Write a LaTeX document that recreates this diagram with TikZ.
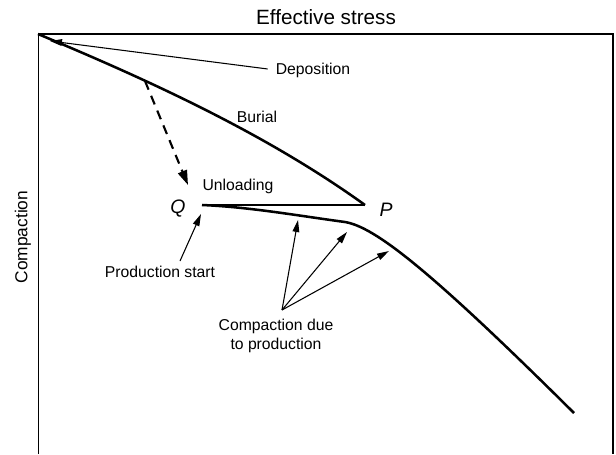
\documentclass[tikz,border=0pt]{standalone}
\usepackage{fontspec}
\setmainfont{Liberation Sans}
\usetikzlibrary{arrows.meta}

\begin{document}
\begin{tikzpicture}[x=0.75pt, y=-0.75pt,
            every node/.style={inner sep=0pt, font=\fontsize{11.8}{14}\selectfont},
            curve/.style={line width=1.9pt},
            frame/.style={line width=0.8pt},
            note/.style={line width=0.8pt, -{Triangle[length=9pt, width=5pt]}},
            reload/.style={line width=1.6pt, dash pattern=on 7pt off 5pt, -{Triangle[length=11pt, width=7pt]}},
            axis/.style={font=\fontsize{15.5}{18}\selectfont},
            pt/.style={font=\fontsize{14.6}{17}\selectfont\itshape}]
            \useasboundingbox (0,0) rectangle (616,454);
            \draw[frame] (38.5,454) -- (38.5,34) -- (613,34) -- (613,454);
            \node[axis] (stress) at (326,17) {Effective stress};
            \node[axis, font=\fontsize{13}{16}\selectfont, rotate=90] (comp) at (23,237) {Compaction};

            \coordinate (o) at (38,34);
            \coordinate (b) at (145,81);
            \coordinate (p) at (365,205);
            \coordinate (q) at (202,205);
            \coordinate (k) at (345,222);
            \coordinate (e) at (574,413);
            \draw[curve] (o) .. controls (148,80) and (265,133) .. (p);
            \draw[curve] (q) -- (p);
            \draw[curve] (q) .. controls (250,207) and (300,216) .. (k)
                             .. controls (375,227) and (430,270) .. (e);
            \draw[reload] (b) -- (188,185);

            \node (dep) at (313,70) {Deposition};
            \node (bur) at (257,117) {Burial};
            \node (unl) at (238,186) {Unloading};
            \node[pt] (lq) at (178,209) {Q};
            \node[pt] (lp) at (386,210) {P};
            \node (start) at (160,272) {Production start};
            \node[align=center] (cdp) at (276,336) {Compaction due\\to production};

            \coordinate (t0) at (50,41);
            \coordinate (t1) at (201,214);
            \coordinate (fan) at (282,310);
            \path[note] (dep.west) edge[shorten <=6pt] (t0)
                        (180,261) edge (t1)
                        (fan) edge (298,220)
                        (fan) edge (347,232)
                        (fan) edge (389,251);
        \end{tikzpicture}
\end{document}
